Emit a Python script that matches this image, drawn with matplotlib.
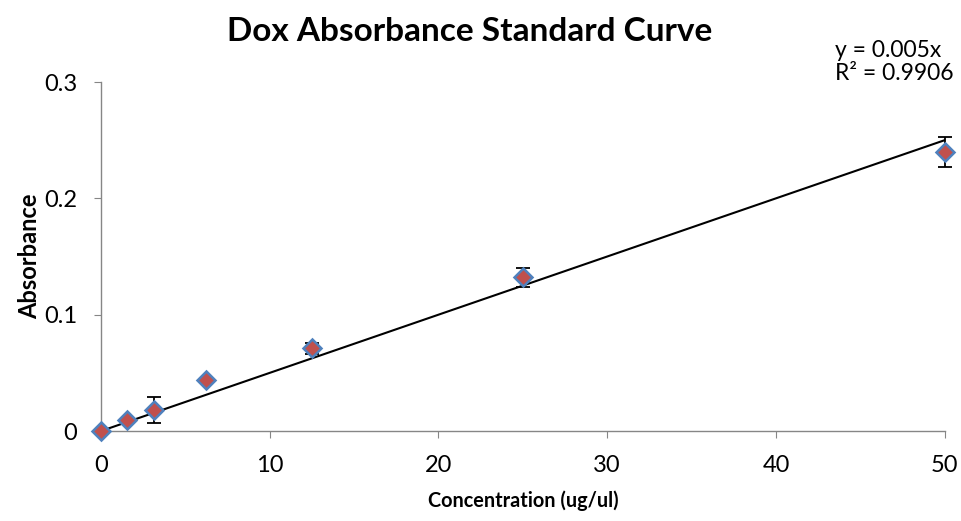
import matplotlib.pyplot as plt
import numpy as np

# dox standard curve readings
conc = [0, 1.5625, 3.125, 6.25, 12.5, 25, 50]
absorb = [0.0, 0.0095, 0.018, 0.044, 0.071, 0.132, 0.240]
err = [0.0, 0.0, 0.011, 0.0, 0.005, 0.008, 0.013]
slope = 0.005
r2 = 0.9906

plt.rcParams['font.family'] = ['Lato', 'DejaVu Sans']

fig = plt.figure(figsize=(9.62, 5.21), dpi=100)
ax = fig.add_axes([0.105, 0.1727, 0.877, 0.6699])

# linear fit through origin
fx = np.array([0, 50])
ax.plot(fx, slope * fx, color='black', lw=1.5, zorder=2)

ax.errorbar(conc, absorb, yerr=err, fmt='none', ecolor='black', elinewidth=1.3,
            capsize=5, capthick=1.3, zorder=3, clip_on=False)
ax.plot(conc, absorb, linestyle='none', marker='D', markersize=9,
        markerfacecolor='#C0504D', markeredgecolor='#4F81BD', markeredgewidth=1.8,
        zorder=4, clip_on=False)

ax.set_xlim(0, 50)
ax.set_ylim(0, 0.3)
ax.set_xticks([0, 10, 20, 30, 40, 50])
ax.set_yticks([0, 0.1, 0.2, 0.3])
ax.set_yticklabels(['0', '0.1', '0.2', '0.3'])

for s in ['top', 'right']:
    ax.spines[s].set_visible(False)
for s in ['left', 'bottom']:
    ax.spines[s].set_color('#868686')
    ax.spines[s].set_linewidth(1)
ax.tick_params(direction='out', length=5, color='#868686', labelsize=17)
ax.tick_params(axis='x', pad=12)
ax.tick_params(axis='y', pad=12)

ax.set_xlabel('Concentration (ug/ul)', fontsize=14.3, fontweight='bold', labelpad=11)
ax.set_ylabel('Absorbance', fontsize=17, fontweight='bold', labelpad=2)
fig.text(0.488, 0.94, 'Dox Absorbance Standard Curve', ha='center', va='center',
         fontsize=24, fontweight='bold')

fig.text(0.868, 0.904, 'y = 0.005x', ha='left', va='center', fontsize=16.5)
fig.text(0.868, 0.858, 'R² = %.4f' % r2, ha='left', va='center', fontsize=16.5)

fig.savefig('out.png', dpi=100)
